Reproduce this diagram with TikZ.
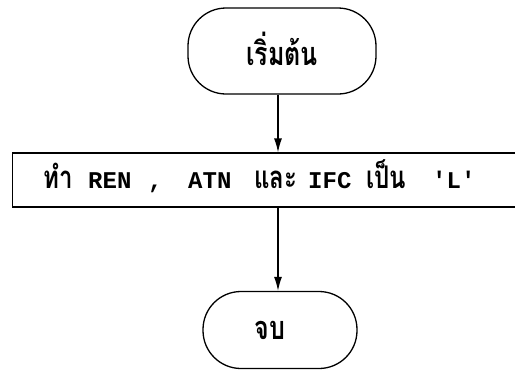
\documentclass[tikz,border=0pt]{standalone}
\usepackage{fontspec}
\newfontfamily\thaifont[Script=Thai]{Loma}
\setmonofont{Liberation Mono}
\usetikzlibrary{arrows.meta}
\newcommand\thx[1]{\scalebox{1}[1.3]{#1}}
\begin{document}
\begin{tikzpicture}[x=1pt,y=-1pt,
  term/.style={draw,line width=1.3pt,rounded corners=38pt,inner sep=0pt,font=\thaifont\bfseries\fontsize{25}{28}\selectfont},
  proc/.style={draw,line width=1.3pt,inner sep=0pt},
  th/.style={anchor=base west,inner sep=0pt,font=\thaifont\bfseries\fontsize{24}{28}\selectfont},
  tt/.style={anchor=base west,inner sep=0pt,font=\ttfamily\bfseries\fontsize{24}{28}\selectfont},
  arr/.style={line width=1.3pt,-{Latex[length=14pt,width=8pt]}}]
\useasboundingbox (0,0) rectangle (515,373);
\clip (0,0) rectangle (515,373);
\node[term,minimum width=188pt,minimum height=86pt,text depth=4pt] (start) at (282,51) {\thx{เริ่มต้น}};
\node[proc,minimum width=560pt,minimum height=54pt,anchor=west] (box) at (12,180) {};
\node[th] (t1) at (43,188) {\thx{ทำ}};
\node[tt] (t2) at (88,188) {REN};
\node[tt] (t3) at (148,188) {,};
\node[tt] (t4) at (188,188) {ATN};
\node[th] (t5) at (254,188) {\thx{และ}};
\node[tt] (t6) at (308,188) {IFC};
\node[th] (t7) at (366,188) {\thx{เป็น}};
\node[tt] (t8) at (432,188) {'L'};
\node[term,minimum width=154pt,minimum height=77pt] (end) at (280,330) {\hspace*{-20pt}\thx{จบ}};
\draw[arr] (start.south -| 278,0) -- (box.north -| 278,0);
\draw[arr] (box.south -| 278,0) -- (end.north -| 278,0);
\end{tikzpicture}
\end{document}
